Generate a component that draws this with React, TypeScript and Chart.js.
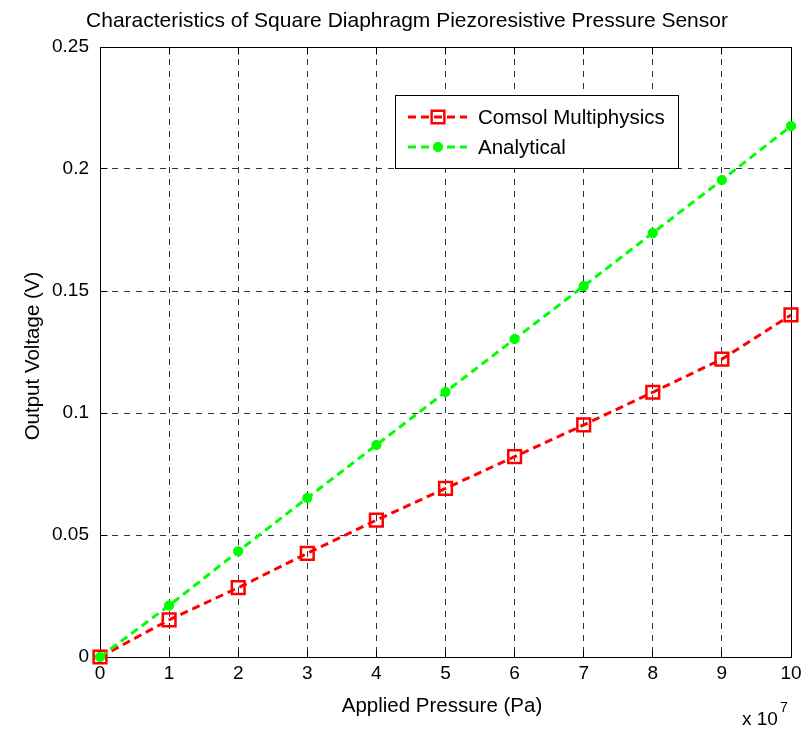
import React, { useEffect, useRef } from 'react';
import { Chart, registerables } from 'chart.js';
import { drawPoint } from 'chart.js/helpers';

Chart.register(...registerables);

// ---- data ----
const pressureValues = [0, 1, 2, 3, 4, 5, 6, 7, 8, 9, 10];
const comsolVoltage = [0, 0.0152, 0.0284, 0.0425, 0.0561, 0.0691, 0.0821, 0.0951, 0.1085, 0.1221, 0.1402];
const analyticalVoltage = [0, 0.0211, 0.0433, 0.0652, 0.0869, 0.1086, 0.1303, 0.152, 0.1738, 0.1955, 0.2176];
const xTickLabels = ['0', '1', '2', '3', '4', '5', '6', '7', '8', '9', '10'];
const yTickLabels = ['0', '0.05', '0.1', '0.15', '0.2', '0.25'];
const seriesNames = ['Comsol Multiphysics', 'Analytical'];
const chartTitle = 'Characteristics of Square Diaphragm Piezoresistive Pressure Sensor';
const xAxisTitle = 'Applied Pressure (Pa)';
const yAxisTitle = 'Output Voltage (V)';
const xExponentBase = 'x 10';
const xExponent = '7';

const FONT = '"Liberation Sans", Arial, Helvetica, sans-serif';
const RED = '#ff0000';
const GREEN = '#00ff00';

const seriesStyles = [
  { color: RED, fill: 'rgba(0,0,0,0)', pointStyle: 'rect', radius: 9, borderWidth: 2.5 },
  { color: GREEN, fill: GREEN, pointStyle: 'star', radius: 5, borderWidth: 3.5 },
];

const align = (v: number) => Math.round(v - 0.5) + 0.5;

const decorPlugin = {
  id: 'matlabDecor',
  beforeDatasetsDraw(chart: any) {
    const { ctx, chartArea } = chart;
    const { left, right, top, bottom } = chartArea;
    const L = align(left), R = align(right), T = align(top), B = align(bottom);
    ctx.save();
    ctx.setLineDash([]);
    ctx.strokeStyle = '#000';
    ctx.lineWidth = 1;
    ctx.beginPath();
    ctx.rect(L, T, R - L, B - T);
    ctx.stroke();
    const tl = 7;
    const xs = chart.scales.x;
    const ys = chart.scales.y;
    ctx.beginPath();
    xs.ticks.forEach((t: any) => {
      const px = align(xs.getPixelForValue(t.value));
      ctx.moveTo(px, B); ctx.lineTo(px, B - tl);
      ctx.moveTo(px, T); ctx.lineTo(px, T + tl);
    });
    ys.ticks.forEach((t: any) => {
      const py = align(ys.getPixelForValue(t.value));
      ctx.moveTo(L, py); ctx.lineTo(L + tl, py);
      ctx.moveTo(R, py); ctx.lineTo(R - tl, py);
    });
    ctx.stroke();
    ctx.restore();
  },
  afterDatasetsDraw(chart: any) {
    const { ctx } = chart;
    ctx.save();
    ctx.fillStyle = '#000';
    // title
    ctx.font = `21px ${FONT}`;
    ctx.textAlign = 'center';
    ctx.textBaseline = 'alphabetic';
    ctx.fillText(chartTitle, 407, 27);
    // x axis title
    ctx.font = `20.5px ${FONT}`;
    ctx.fillText(xAxisTitle, 442, 712);
    // y axis title
    ctx.save();
    ctx.translate(39, 356);
    ctx.rotate(-Math.PI / 2);
    ctx.fillText(yAxisTitle, 0, 0);
    ctx.restore();
    // exponent
    ctx.textAlign = 'left';
    ctx.font = `19px ${FONT}`;
    ctx.fillText(xExponentBase, 742, 725);
    const w = ctx.measureText(xExponentBase).width;
    ctx.font = `14px ${FONT}`;
    ctx.fillText(xExponent, 742 + w + 2, 712);

    // legend
    const lx = 395, ly = 95, lw = 283, lh = 73;
    ctx.fillStyle = '#fff';
    ctx.fillRect(lx, ly, lw, lh);
    ctx.strokeStyle = '#000';
    ctx.lineWidth = 1;
    ctx.setLineDash([]);
    ctx.strokeRect(lx + 0.5, ly + 0.5, lw, lh);
    seriesNames.forEach((name, i) => {
      const st = seriesStyles[i];
      const y = 117 + 30 * i;
      ctx.save();
      ctx.strokeStyle = st.color;
      ctx.lineWidth = 3;
      ctx.setLineDash([8, 5]);
      ctx.beginPath();
      ctx.moveTo(408, y);
      ctx.lineTo(467, y);
      ctx.stroke();
      ctx.setLineDash([]);
      ctx.strokeStyle = st.color;
      ctx.fillStyle = st.fill;
      ctx.lineWidth = st.borderWidth;
      drawPoint(ctx, { pointStyle: st.pointStyle as any, radius: st.radius, rotation: 0, borderWidth: st.borderWidth }, 438, y);
      ctx.restore();
      ctx.fillStyle = '#000';
      ctx.font = `20.5px ${FONT}`;
      ctx.textBaseline = 'middle';
      ctx.fillText(name, 478, y + 1);
    });
    ctx.restore();
  },
};

export default function App() {
  const canvasRef = useRef<HTMLCanvasElement | null>(null);

  useEffect(() => {
    if (!canvasRef.current) return;
    const mk = (data: number[], i: number) => ({
      label: seriesNames[i],
      data: pressureValues.map((x, k) => ({ x, y: data[k] })),
      borderColor: seriesStyles[i].color,
      backgroundColor: 'rgba(0,0,0,0)',
      pointBorderColor: seriesStyles[i].color,
      pointBackgroundColor: seriesStyles[i].fill,
      pointStyle: seriesStyles[i].pointStyle,
      pointRadius: seriesStyles[i].radius,
      pointBorderWidth: seriesStyles[i].borderWidth,
      borderWidth: 3,
      borderDash: [8, 5],
      tension: 0,
      fill: false,
      clip: false as any,
      order: i === 0 ? 2 : 1,
    });
    const chart = new Chart(canvasRef.current, {
      type: 'line',
      data: {
        datasets: [mk(comsolVoltage, 0), mk(analyticalVoltage, 1)] as any,
      },
      options: {
        responsive: false,
        animation: false,
        devicePixelRatio: 1,
        layout: { padding: { left: 0, top: 47, right: 20, bottom: 0 } },
        plugins: {
          legend: { display: false },
          title: { display: false },
          tooltip: { enabled: false },
        },
        scales: {
          x: {
            type: 'linear',
            min: 0,
            max: 10,
            ticks: {
              stepSize: 1,
              autoSkip: false,
              maxRotation: 0,
              padding: 5,
              color: '#000',
              font: { family: FONT, size: 19 },
              callback: (v: any) => {
                const idx = pressureValues.findIndex((p) => Math.abs(p - Number(v)) < 1e-9);
                return idx >= 0 ? xTickLabels[idx] : '';
              },
            },
            grid: { color: '#333', lineWidth: 1, drawTicks: false },
            border: { display: false, dash: [6, 6] },
            afterFit: (s: any) => { s.height = 73; },
          },
          y: {
            type: 'linear',
            min: 0,
            max: 0.25,
            ticks: {
              stepSize: 0.05,
              autoSkip: false,
              padding: 11,
              color: '#000',
              font: { family: FONT, size: 19 },
              callback: (v: any) => {
                const l = yTickLabels.find((t) => Math.abs(parseFloat(t) - Number(v)) < 1e-9);
                return l ?? '';
              },
            },
            grid: { color: '#333', lineWidth: 1, drawTicks: false },
            border: { display: false, dash: [6, 6] },
            afterFit: (s: any) => { s.width = 100; },
          },
        },
      } as any,
      plugins: [decorPlugin],
    });
    return () => chart.destroy();
  }, []);

  return (
    <div style={{ position: 'absolute', left: 0, top: 0, width: 811, height: 730, background: '#fff' }}>
      <canvas ref={canvasRef} width={811} height={730} style={{ display: 'block', width: 811, height: 730 }} />
    </div>
  );
}
